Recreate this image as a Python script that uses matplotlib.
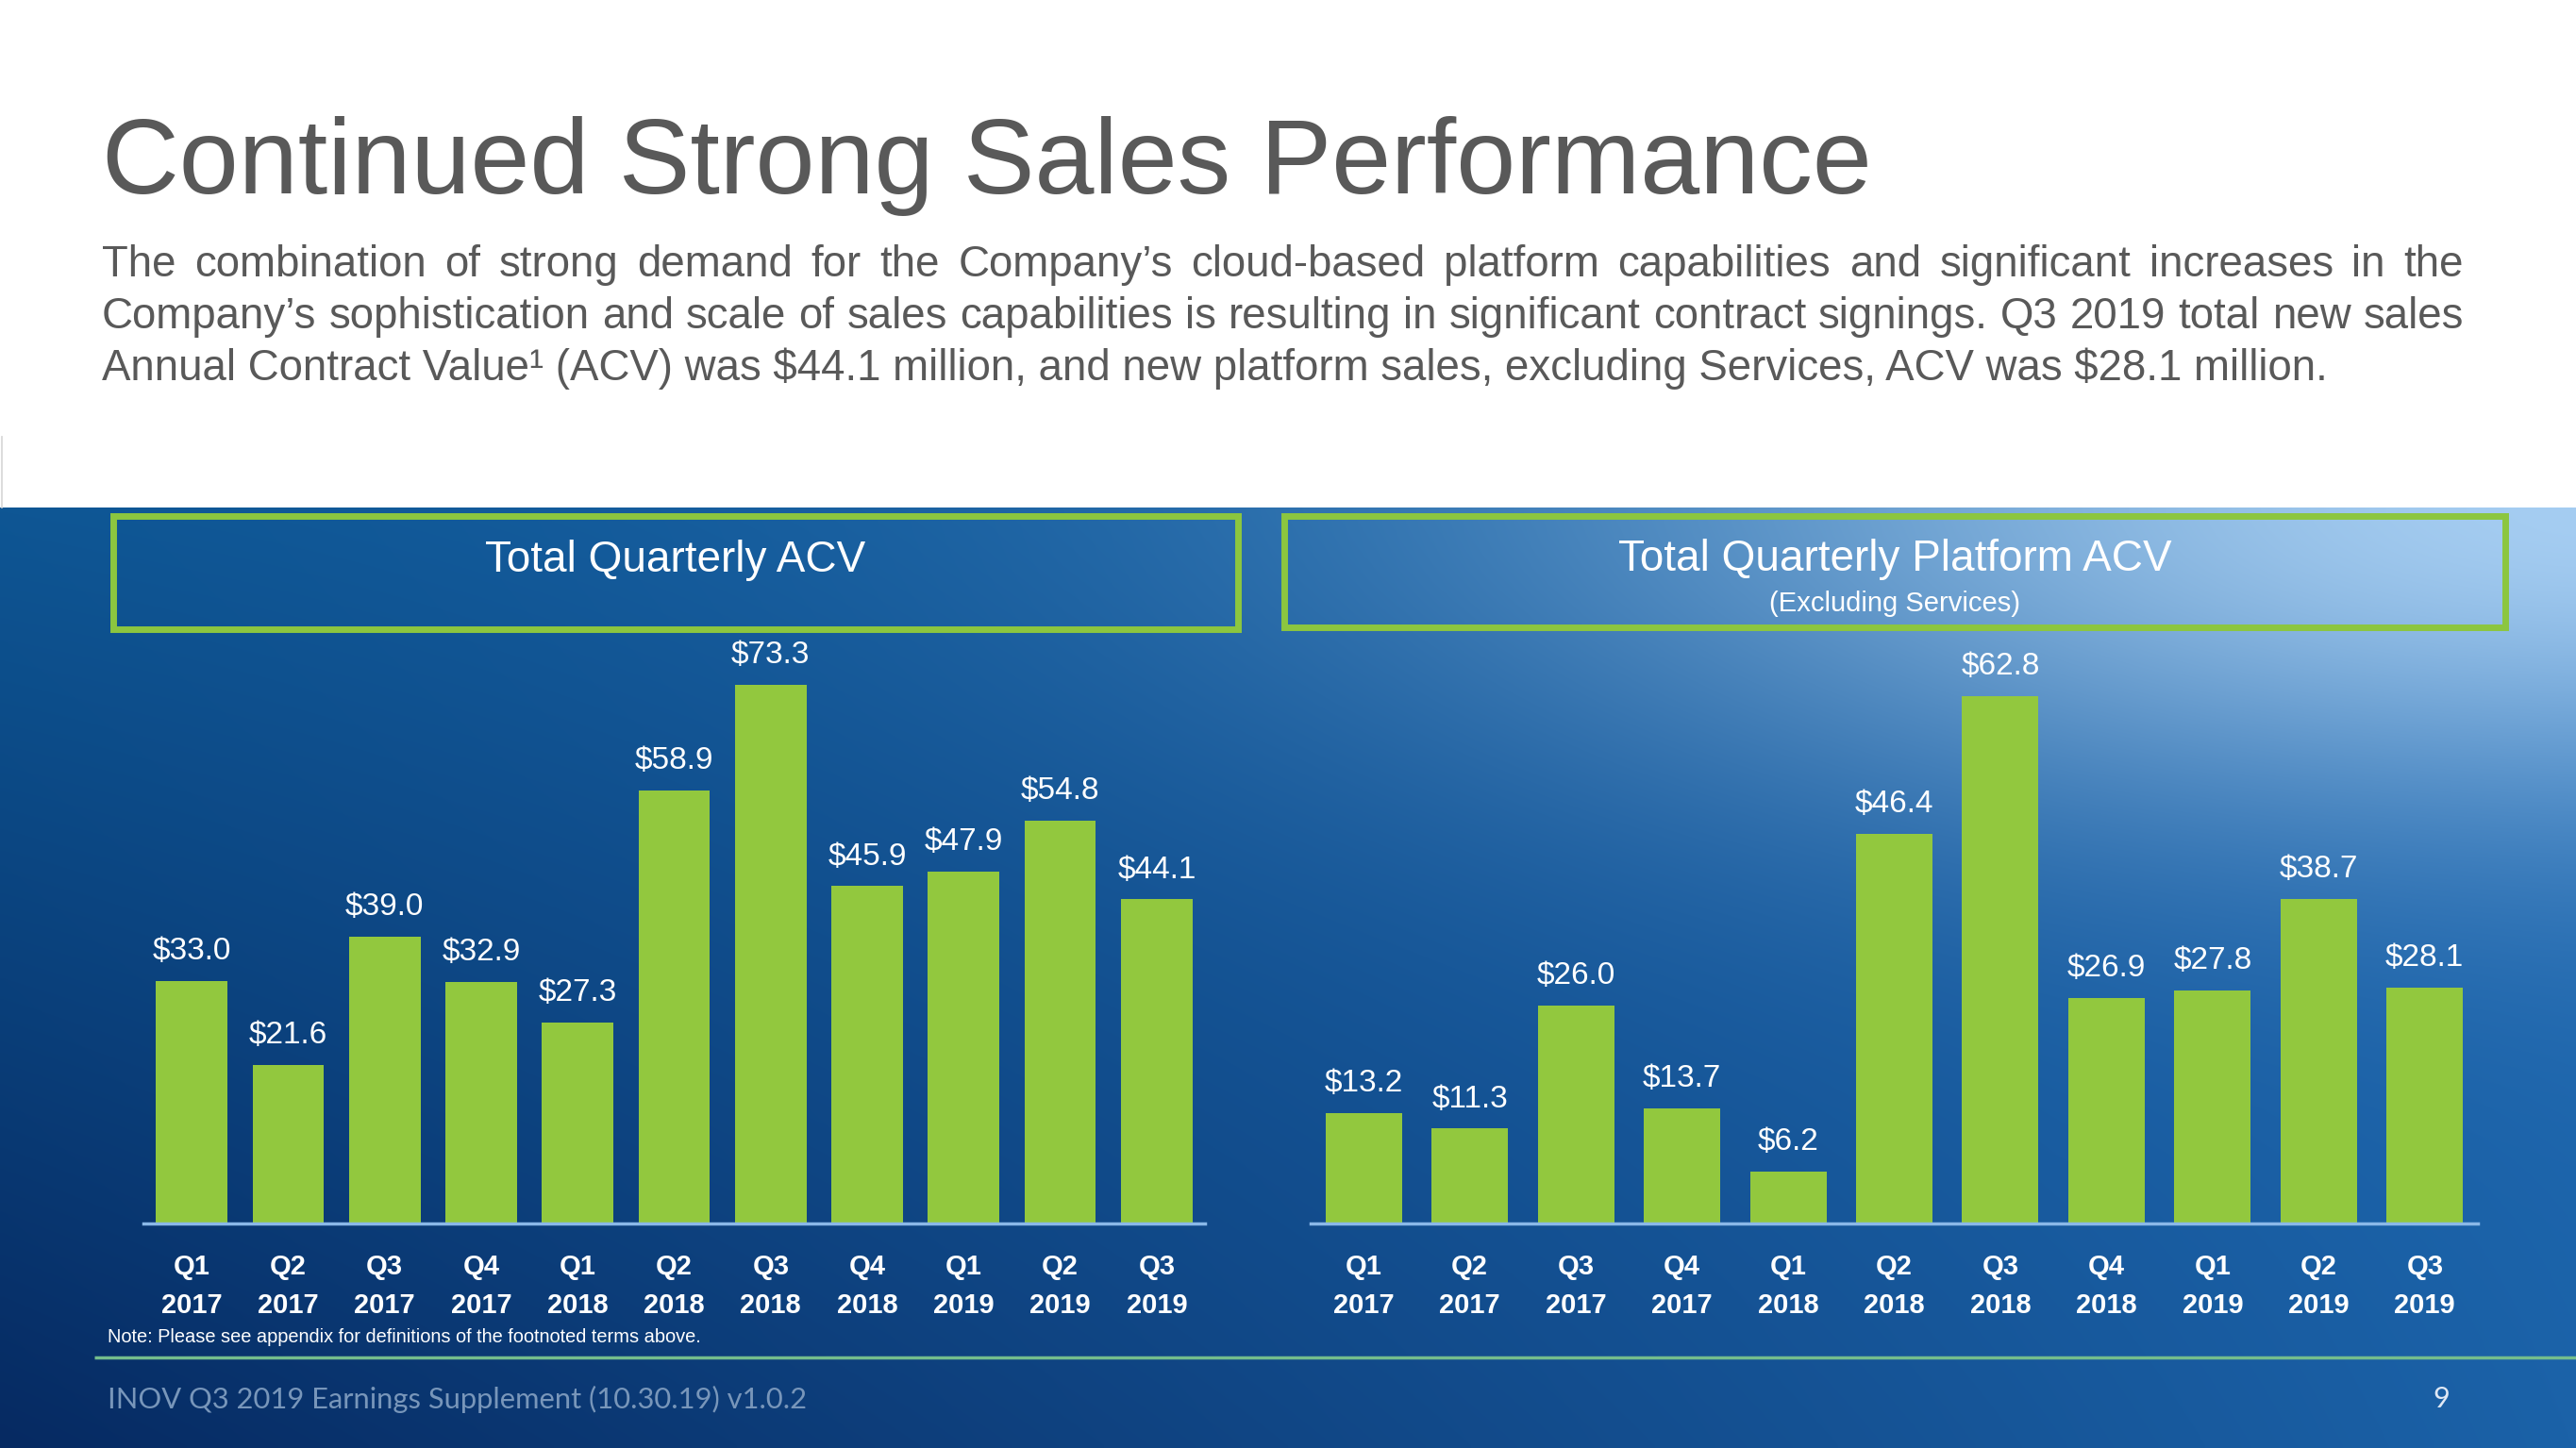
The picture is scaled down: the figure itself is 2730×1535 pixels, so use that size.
import numpy as np
import matplotlib
matplotlib.use('Agg')
import matplotlib.pyplot as plt
from matplotlib.patches import Rectangle

plt.rcParams['font.family'] = ['Liberation Sans', 'DejaVu Sans']

# ---------------- data ----------------
quarters = ['Q1', 'Q2', 'Q3', 'Q4', 'Q1', 'Q2', 'Q3', 'Q4', 'Q1', 'Q2', 'Q3']
years = ['2017', '2017', '2017', '2017', '2018', '2018', '2018', '2018', '2019', '2019', '2019']
total_acv = [33.0, 21.6, 39.0, 32.9, 27.3, 58.9, 73.3, 45.9, 47.9, 54.8, 44.1]
platform_acv = [13.2, 11.3, 26.0, 13.7, 6.2, 46.4, 62.8, 26.9, 27.8, 38.7, 28.1]

title = 'Continued Strong Sales Performance'
body_lines = [
    "The combination of strong demand for the Company\u2019s cloud-based platform capabilities and significant increases in the",
    "Company\u2019s sophistication and scale of sales capabilities is resulting in significant contract signings. Q3 2019 total new sales",
    "Annual Contract Value\u00b9 (ACV) was $44.1 million, and new platform sales, excluding Services, ACV was $28.1 million.",
]
left_header = 'Total Quarterly ACV'
right_header = 'Total Quarterly Platform ACV'
right_sub = '(Excluding Services)'
note = 'Note: Please see appendix for definitions of the footnoted terms above.'
footer = 'INOV Q3 2019 Earnings Supplement (10.30.19) v1.0.2'
page = '9'

# ---------------- figure ----------------
W, H = 2730, 1535
DPI = 100
fig = plt.figure(figsize=(W / DPI, H / DPI), dpi=DPI)
fig.patch.set_facecolor('white')
renderer = fig.canvas.get_renderer()

bg = fig.add_axes([0, 0, 1, 1], zorder=0)
bg.set_xlim(0, W)
bg.set_ylim(H, 0)
bg.axis('off')

# gradient panel
PT = 538
ny, nx = 200, 400
u = np.linspace(0, 1, nx)[None, :]
v = np.linspace(0, 1, ny)[:, None]
TL = np.array([14, 86, 148]) / 255
TRb = np.array([30, 105, 178]) / 255
TR = np.array([165, 205, 242]) / 255
BL = np.array([6, 42, 98]) / 255
BR = np.array([27, 98, 168]) / 255
base = (((1 - u) * (1 - v))[..., None] * TL + (u * (1 - v))[..., None] * TRb
        + ((1 - u) * v)[..., None] * BL + (u * v)[..., None] * BR)
h = np.exp(-(((1 - u) / 0.38) ** 2 + (v / 0.32) ** 2))
img = np.clip(base + h[..., None] * (TR - TRb), 0, 1)
bg.imshow(img, extent=[0, W, H, PT], aspect='auto', interpolation='bilinear', zorder=0)
bg.set_xlim(0, W)
bg.set_ylim(H, 0)
bg.plot([1.5, 1.5], [463, PT], color='#d5d5d5', lw=1.2, zorder=1)


def fit_width(t, target):
    w = t.get_window_extent(renderer).width
    t.set_fontsize(t.get_fontsize() * target / w)


def btext(x, y, s, **kw):
    return bg.text(x, y, s, parse_math=False, zorder=3, **kw)


# title
tt = btext(108, 205, title, fontsize=80, color='#595959', ha='left', va='baseline')
fit_width(tt, 1876)

# body
gray = '#595959'
t3 = btext(108, 403, body_lines[2], fontsize=31, color=gray, ha='left', va='baseline')
fit_width(t3, 2357)
body_fs = t3.get_fontsize()


def justify(line, x0, x1, y, fs):
    words = line.split(' ')
    ts = [btext(0, y, w, fontsize=fs, color=gray, ha='left', va='baseline') for w in words]
    widths = [t.get_window_extent(renderer).width for t in ts]
    gap = (x1 - x0 - sum(widths)) / (len(words) - 1)
    x = x0
    for t, w in zip(ts, widths):
        t.set_x(x)
        x += w + gap


justify(body_lines[0], 108, 2611, 293, body_fs)
justify(body_lines[1], 108, 2611, 348, body_fs)

# header boxes
green = '#8cc63f'
bg.add_patch(Rectangle((120, 547), 1312 - 120, 667 - 547, fill=False, ec=green, lw=5, zorder=3))
bg.add_patch(Rectangle((1361, 547), 2655 - 1361, 665 - 547, fill=False, ec=green, lw=5, zorder=3))
btext(716, 606, left_header, fontsize=33, color='white', ha='center', va='baseline')
btext(2008, 605, right_header, fontsize=33, color='white', ha='center', va='baseline')
btext(2008, 648, right_sub, fontsize=21, color='white', ha='center', va='baseline')

# bars
bar_color = '#92c83e'
axis_color = '#8ab8e8'
BASE_Y = 1297
TOP_Y = 640


def make_chart(x0, x1, values, px_per_unit, width):
    ax = fig.add_axes([x0 / W, 1 - BASE_Y / H, (x1 - x0) / W, (BASE_Y - TOP_Y) / H], zorder=2)
    ax.patch.set_visible(False)
    idx = np.arange(len(values))
    ax.bar(idx, values, width=width, color=bar_color, zorder=2)
    ax.set_xlim(-0.5, len(values) - 0.5)
    ax.set_ylim(0, (BASE_Y - TOP_Y) / px_per_unit)
    for s in ['top', 'right', 'left']:
        ax.spines[s].set_visible(False)
    ax.spines['bottom'].set_color(axis_color)
    ax.spines['bottom'].set_linewidth(2.5)
    ax.set_yticks([])
    ax.set_xticks(idx, labels=[f'{q}\n{y}' for q, y in zip(quarters, years)],
                  fontsize=21, fontweight='bold', color='white', linespacing=1.6)
    ax.tick_params(axis='x', length=0, pad=23)
    for i, val in enumerate(values):
        ax.annotate(f'${val:.1f}', (i, val), xytext=(0, 16.5), textcoords='offset points',
                    ha='center', va='baseline', fontsize=24, color='white', annotation_clip=False)
    return ax


make_chart(152, 1277, total_acv, 7.79, 0.74)
make_chart(1389, 2626, platform_acv, 8.9, 0.72)

# note
tn = btext(114, 1423, note, fontsize=13, color='white', ha='left', va='baseline')
fit_width(tn, 627)

# separator line
bg.plot([100, W], [1439, 1439], color='#74bd8c', lw=2.5, zorder=3, solid_capstyle='butt')

# footer
tf = btext(114, 1493, footer, fontsize=22, color='#7896ba', ha='left', va='baseline',
           family=['Lato', 'DejaVu Sans'])
fit_width(tf, 739)
btext(2587, 1492, page, fontsize=22, color='#dfe8f5', ha='center', va='baseline',
      family=['Lato', 'DejaVu Sans'])

fig.savefig('out.png', dpi=DPI)
